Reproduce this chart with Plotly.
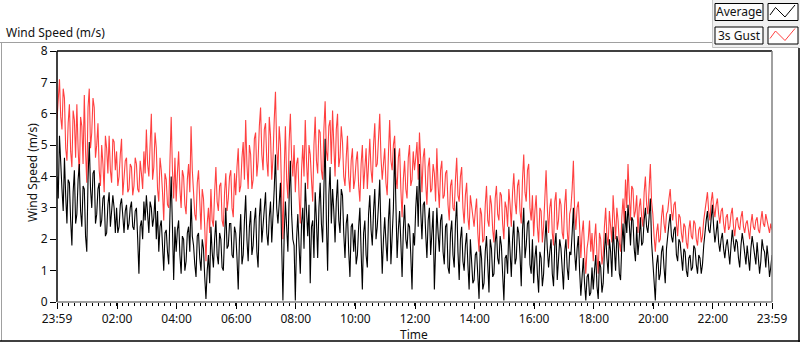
import pandas as pd
import plotly.graph_objects as go

# ---- data (samples every 5 min, plus the in-between samples) ----
start_time = "2000-01-01 23:59"
step_seconds = 150  # combined series: one sample every 2.5 minutes

# 3 s gust, on the 5-minute marks (00:00 .. 23:59)
gust_values = [
    5.8, 7.1, 5.5, 6.5, 4.5, 6.3, 4.3, 5.8, 6.3, 4.0, 5.6, 6.6, 3.8, 6.8, 5.4, 6.2, 5.0, 4.2, 5.0, 3.5, 4.9, 5.3, 3.8, 5.1,
    4.8, 4.0, 5.2, 3.9, 4.6, 3.6, 4.3, 3.7, 4.4, 3.5, 4.1, 4.8, 5.5, 4.0, 6.0, 4.3, 4.9, 3.2, 4.2, 2.6, 3.9, 3.0, 5.9, 3.3,
    3.2, 4.8, 3.0, 4.0, 2.8, 4.4, 5.6, 3.6, 2.6, 4.2, 2.3, 3.3, 1.3, 3.0, 3.6, 2.4, 4.3, 2.9, 3.8, 2.4, 4.1, 3.3, 4.2, 2.7,
    3.4, 4.9, 3.7, 5.1, 5.8, 3.6, 4.7, 3.9, 5.4, 4.5, 6.2, 4.2, 5.7, 4.0, 5.3, 4.6, 6.7, 4.2, 5.0, 2.0, 5.6, 3.3, 6.0, 4.0,
    3.5, 4.6, 2.5, 5.0, 5.8, 3.6, 4.7, 3.2, 5.9, 4.1, 5.4, 3.9, 6.4, 4.5, 5.8, 6.1, 4.0, 6.0, 4.6, 5.1, 3.7, 5.3, 3.5, 4.9,
    3.9, 4.8, 3.2, 5.0, 4.1, 3.6, 5.2, 3.8, 5.7, 4.4, 6.0, 3.9, 4.9, 3.4, 5.8, 4.2, 5.3, 3.6, 4.9, 2.7, 4.5, 3.3, 5.0, 3.9,
    4.2, 5.1, 5.4, 3.5, 4.9, 3.1, 4.6, 3.6, 4.1, 4.9, 3.0, 4.5, 3.4, 4.2, 2.6, 3.9, 2.9, 4.6, 3.2, 4.3, 2.5, 3.8, 2.3, 3.0,
    2.4, 3.3, 1.6, 2.8, 2.0, 3.7, 2.4, 3.1, 1.9, 3.7, 2.6, 3.4, 2.0, 3.0, 3.6, 2.4, 4.1, 2.8, 3.9, 2.5, 4.7, 3.2, 4.4, 2.6,
    2.1, 3.4, 1.9, 2.9, 2.4, 4.2, 2.2, 3.3, 1.8, 3.5, 2.6, 3.1, 2.0, 3.6, 1.7, 3.0, 4.5, 2.3, 3.2, 1.4, 2.6, 0.9, 2.0, 1.6,
    1.3, 2.5, 0.9, 2.0, 1.5, 3.0, 1.8, 2.5, 3.4, 2.0, 2.6, 1.6, 3.3, 3.9, 4.4, 2.6, 3.6, 2.9, 2.2, 3.3, 2.4, 4.0, 2.8, 4.4,
    2.8, 1.6, 2.5, 2.0, 3.1, 2.2, 2.9, 3.6, 2.6, 3.2, 2.1, 2.7, 1.9, 2.4, 1.7, 2.6, 2.0, 2.5, 1.8, 2.4, 2.1, 2.9, 3.5, 2.6,
    3.5, 2.7, 3.3, 2.5, 3.0, 2.2, 2.8, 2.4, 3.0, 2.1, 2.7, 2.3, 2.9, 2.2, 2.6, 2.0, 2.8, 2.3, 2.7, 2.2, 2.9, 2.4, 2.6, 2.2, 2.3,
]
# 3 s gust, in between the 5-minute marks
gust_values_between = [
    6.4, 5.9, 6.8, 4.9, 5.7, 4.8, 6.1, 4.6, 4.9, 5.9, 4.4, 4.8, 6.2, 4.9, 6.5, 4.6, 5.7, 3.7, 4.4, 5.3, 4.1, 4.2, 5.2, 4.2,
    3.7, 4.7, 3.4, 4.5, 3.5, 4.4, 3.4, 4.6, 3.6, 4.5, 3.6, 4.1, 4.4, 5.3, 3.9, 5.4, 3.6, 4.6, 3.5, 4.1, 3.1, 4.5, 4.2, 4.6,
    4.1, 3.6, 4.2, 3.1, 3.9, 3.5, 4.2, 2.8, 3.8, 2.9, 3.6, 2.4, 2.5, 2.2, 2.6, 3.5, 3.2, 3.7, 2.6, 3.5, 2.9, 4.0, 3.0, 4.1,
    4.3, 3.5, 4.6, 3.9, 4.4, 5.0, 3.6, 5.2, 4.0, 5.6, 4.7, 5.5, 4.5, 5.9, 3.9, 5.8, 4.9, 5.6, 3.4, 4.1, 3.9, 5.1, 4.6, 5.0,
    4.4, 3.4, 4.2, 4.0, 4.5, 5.0, 3.9, 5.0, 4.5, 5.5, 4.2, 5.5, 4.8, 5.6, 4.4, 5.0, 5.5, 4.3, 5.6, 4.0, 4.6, 4.0, 4.5, 3.6,
    4.5, 3.7, 4.4, 3.6, 4.9, 4.5, 4.2, 5.0, 4.3, 5.2, 4.6, 4.4, 3.8, 4.7, 4.5, 5.0, 4.0, 4.6, 3.6, 3.9, 3.6, 4.6, 3.7, 4.8,
    4.6, 3.9, 4.5, 4.6, 3.8, 4.3, 3.5, 4.4, 3.2, 3.7, 4.2, 3.3, 4.1, 3.1, 3.7, 3.0, 3.9, 3.4, 4.0, 3.0, 3.4, 2.7, 3.4, 2.6,
    2.9, 2.2, 3.0, 1.9, 3.1, 2.6, 3.4, 2.3, 3.3, 2.8, 3.5, 2.5, 3.2, 2.4, 3.1, 3.5, 3.2, 3.7, 2.9, 3.9, 3.5, 4.2, 3.0, 3.4,
    2.9, 2.4, 3.0, 1.9, 3.3, 3.0, 3.0, 2.2, 3.2, 2.3, 3.3, 2.2, 3.1, 2.3, 2.8, 3.6, 2.9, 3.0, 2.4, 2.2, 1.6, 1.7, 2.6, 2.2,
    2.0, 1.5, 2.2, 1.2, 2.4, 2.1, 2.9, 1.9, 2.6, 3.0, 1.9, 2.7, 2.5, 3.0, 3.4, 3.7, 2.7, 3.4, 3.0, 2.7, 3.5, 3.1, 3.6, 3.2,
    2.1, 2.2, 1.9, 2.7, 2.5, 2.8, 3.3, 2.9, 3.1, 2.5, 2.8, 2.2, 2.5, 1.9, 2.3, 2.1, 2.6, 2.0, 2.3, 1.9, 2.6, 3.2, 2.9, 3.2,
    3.0, 3.1, 2.8, 2.9, 2.5, 2.7, 2.3, 2.8, 2.4, 2.6, 2.4, 2.7, 2.4, 2.5, 2.3, 2.5, 2.4, 2.6, 2.3, 2.6, 2.5, 2.8, 2.3, 2.5,
]

# average wind speed, on the 5-minute marks
average_values = [
    4.0, 5.3, 3.6, 4.6, 2.5, 3.8, 1.8, 4.2, 2.8, 4.4, 2.4, 3.6, 1.6, 5.1, 3.0, 4.2, 2.8, 3.8, 2.6, 3.4, 2.2, 3.5, 2.8, 3.0,
    3.0, 2.4, 3.3, 2.2, 3.1, 2.5, 3.2, 2.3, 3.0, 0.9, 2.6, 3.2, 3.4, 2.2, 3.0, 2.7, 2.0, 1.6, 2.6, 1.0, 2.3, 1.2, 4.0, 0.7,
    1.6, 2.6, 0.9, 2.0, 1.3, 2.4, 3.3, 1.8, 0.8, 2.2, 1.0, 1.7, 0.1, 1.5, 2.4, 1.1, 2.6, 1.2, 2.0, 1.0, 3.0, 1.8, 2.5, 1.4,
    2.2, 0.4, 2.8, 1.5, 3.4, 1.3, 2.9, 1.8, 3.0, 1.1, 3.3, 2.4, 3.5, 1.8, 3.2, 2.6, 4.7, 2.5, 3.8, 0.05, 3.2, 1.6, 4.5, 2.0,
    0.05, 2.8, 0.9, 3.0, 3.8, 2.1, 0.6, 2.6, 3.5, 1.4, 3.8, 1.9, 5.2, 1.0, 4.3, 3.6, 1.9, 3.9, 2.2, 3.4, 1.4, 2.8, 0.8, 2.5,
    2.3, 1.5, 3.0, 0.4, 2.6, 1.1, 3.4, 1.8, 3.6, 2.4, 3.9, 0.9, 2.7, 1.3, 3.3, 2.0, 4.9, 1.4, 2.9, 0.8, 3.1, 1.7, 2.4, 0.4,
    1.8, 3.7, 4.4, 2.0, 3.2, 1.4, 3.0, 2.1, 0.4, 3.0, 1.6, 2.8, 1.2, 2.5, 0.9, 2.6, 1.1, 3.2, 0.7, 2.4, 1.0, 2.2, 0.4, 1.4,
    0.7, 1.6, 0.1, 1.4, 0.6, 2.1, 0.3, 1.7, 0.9, 2.3, 1.2, 1.8, 0.05, 1.5, 2.4, 0.8, 2.6, 1.4, 2.2, 0.5, 3.0, 1.8, 2.6, 0.9,
    0.6, 1.8, 0.3, 1.4, 0.9, 2.6, 1.1, 2.0, 0.5, 2.2, 1.3, 1.7, 0.4, 2.0, 0.7, 1.5, 3.0, 1.0, 2.1, 0.2, 1.4, 0.05, 0.9, 0.3,
    0.4, 1.5, 0.1, 1.1, 0.6, 2.2, 0.9, 1.6, 2.4, 1.0, 1.9, 0.7, 2.5, 2.9, 3.1, 1.8, 2.6, 1.3, 1.5, 2.7, 1.9, 3.0, 2.2, 3.3,
    1.2, 0.05, 1.5, 0.9, 1.8, 0.6, 2.2, 2.8, 1.9, 2.4, 1.3, 1.9, 1.0, 1.6, 0.8, 1.5, 1.1, 1.7, 0.9, 1.4, 1.2, 2.3, 2.9, 2.2,
    3.1, 1.9, 2.6, 1.6, 2.2, 1.4, 2.0, 1.2, 2.3, 1.6, 1.9, 1.1, 2.2, 1.5, 1.8, 1.0, 2.1, 1.4, 1.9, 0.9, 2.0, 1.6, 1.8, 0.8, 1.5,
]
# average wind speed, in between the 5-minute marks
average_values_between = [
    3.3, 4.3, 2.9, 3.4, 3.9, 2.6, 3.5, 2.5, 3.9, 2.9, 3.7, 2.1, 3.9, 3.6, 4.1, 2.5, 3.6, 2.4, 3.3, 2.1, 3.1, 2.4, 3.4, 2.2,
    2.2, 3.1, 2.6, 2.9, 2.3, 3.0, 2.4, 2.9, 2.0, 2.4, 2.0, 2.6, 2.8, 3.2, 2.4, 3.4, 2.9, 2.4, 1.8, 2.2, 1.6, 2.8, 2.4, 2.4,
    2.3, 1.5, 2.1, 1.0, 2.2, 1.6, 2.1, 1.2, 2.1, 1.4, 2.0, 0.8, 1.0, 0.6, 1.6, 2.0, 1.5, 2.2, 1.1, 2.1, 1.7, 2.5, 1.5, 2.4,
    1.4, 2.0, 1.2, 2.6, 2.0, 2.4, 1.5, 2.6, 1.6, 2.7, 1.9, 3.1, 2.2, 2.7, 1.9, 3.6, 3.0, 3.3, 1.8, 2.1, 2.4, 3.3, 2.8, 1.8,
    2.0, 1.8, 2.5, 1.7, 2.9, 3.1, 2.4, 1.4, 2.6, 3.0, 2.5, 3.6, 2.6, 3.4, 2.5, 2.9, 3.2, 2.6, 3.6, 2.2, 2.5, 1.6, 2.4, 1.6,
    1.2, 2.4, 1.6, 2.2, 1.5, 2.8, 2.3, 2.9, 2.0, 3.1, 2.2, 2.0, 1.9, 2.6, 1.2, 3.0, 2.4, 2.3, 1.9, 2.3, 2.0, 2.5, 1.5, 2.2,
    3.0, 2.4, 2.9, 3.1, 2.2, 2.6, 1.5, 2.9, 1.8, 2.2, 2.6, 1.6, 2.4, 1.1, 2.2, 1.5, 2.5, 1.6, 2.0, 1.3, 1.8, 1.2, 2.0, 0.6,
    1.5, 0.7, 1.8, 0.4, 1.6, 1.2, 2.0, 0.8, 1.9, 1.4, 2.1, 0.9, 1.4, 0.9, 1.6, 2.0, 1.2, 2.4, 1.5, 2.3, 1.4, 2.5, 1.2, 2.0,
    1.4, 0.9, 1.6, 0.5, 1.9, 1.7, 1.6, 0.9, 1.8, 0.7, 2.0, 0.9, 1.6, 1.1, 1.6, 2.2, 1.6, 1.7, 1.0, 0.8, 0.6, 0.8, 0.2, 1.1,
    1.0, 0.5, 1.3, 0.3, 1.6, 1.4, 2.0, 0.8, 1.7, 2.1, 0.9, 1.8, 1.6, 2.2, 2.5, 2.7, 1.7, 2.4, 2.0, 1.8, 2.6, 2.4, 2.7, 1.9,
    0.6, 1.2, 0.7, 1.6, 1.1, 1.7, 2.5, 2.1, 2.3, 1.5, 2.0, 1.3, 1.7, 1.0, 1.4, 1.0, 1.8, 1.2, 1.5, 0.9, 1.8, 2.6, 2.3, 2.7,
    2.4, 2.2, 1.9, 2.0, 1.7, 1.8, 1.6, 1.8, 1.9, 2.0, 1.4, 1.8, 1.9, 1.2, 1.4, 1.7, 1.8, 1.2, 1.5, 1.3, 1.7, 1.1, 1.4, 1.1,
]

x_tick_values = ["2000-01-01 23:59", "2000-01-02 02:00", "2000-01-02 04:00", "2000-01-02 06:00",
                 "2000-01-02 08:00", "2000-01-02 10:00", "2000-01-02 12:00", "2000-01-02 14:00",
                 "2000-01-02 16:00", "2000-01-02 18:00", "2000-01-02 20:00", "2000-01-02 22:00",
                 "2000-01-02 23:59"]
x_tick_labels = ["23:59", "02:00", "04:00", "06:00", "08:00", "10:00", "12:00", "14:00",
                 "16:00", "18:00", "20:00", "22:00", "23:59"]
y_ticks = [0, 1, 2, 3, 4, 5, 6, 7, 8]

series_names = ["Average", "3s Gust"]
series_colors = ["#000000", "#ff4040"]


def interleave(on_marks, between):
    out = []
    for i, v in enumerate(on_marks):
        out.append(v)
        if i < len(between):
            out.append(between[i])
    return out


gust_series = interleave(gust_values, gust_values_between)
average_series = interleave(average_values, average_values_between)
times = pd.date_range(start_time, periods=len(gust_series), freq=f"{step_seconds}s")

W, H = 800, 342
L, R, T, B = 57, 772, 51, 302
FONT = "Segoe UI, Noto Sans, Open Sans, sans-serif"
TXT = "#111111"


def px(x):
    return (x - L) / (R - L)


def py(y):
    return (B - y) / (B - T)


fig = go.Figure()
fig.add_trace(go.Scatter(x=times, y=gust_series, mode="lines", name=series_names[1],
                         line=dict(color=series_colors[1], width=1.1), showlegend=False))
fig.add_trace(go.Scatter(x=times, y=average_series, mode="lines", name=series_names[0],
                         line=dict(color=series_colors[0], width=1.1), showlegend=False))

shapes = []
# outer frame
shapes.append(dict(type="line", xref="paper", yref="paper", x0=px(0), x1=px(712), y0=py(42.5), y1=py(42.5),
                   line=dict(color="#a0a0a0", width=1)))
shapes.append(dict(type="line", xref="paper", yref="paper", x0=px(1.5), x1=px(1.5), y0=py(42), y1=py(341),
                   line=dict(color="#a0a0a0", width=1)))
shapes.append(dict(type="line", xref="paper", yref="paper", x0=px(0), x1=px(800), y0=py(341), y1=py(341),
                   line=dict(color="#000000", width=1.5)))
shapes.append(dict(type="line", xref="paper", yref="paper", x0=px(799), x1=px(799), y0=py(48), y1=py(342),
                   line=dict(color="#000000", width=1.5)))
# legend panel
shapes.append(dict(type="rect", xref="paper", yref="paper", x0=px(712), x1=px(800), y0=py(0), y1=py(47.5),
                   fillcolor="#f0f0f0", line=dict(width=0), layer="below"))
shapes.append(dict(type="line", xref="paper", yref="paper", x0=px(712.5), x1=px(799), y0=py(47.5), y1=py(47.5),
                   line=dict(color="#c0c0c0", width=1)))
shapes.append(dict(type="line", xref="paper", yref="paper", x0=px(712.5), x1=px(712.5), y0=py(0), y1=py(47.5),
                   line=dict(color="#c8c8c8", width=1)))
# plot area border
shapes.append(dict(type="line", xref="paper", yref="paper", x0=0, x1=1, y0=1, y1=1,
                   line=dict(color="#000000", width=1.5)))
shapes.append(dict(type="line", xref="paper", yref="paper", x0=0, x1=0, y0=0, y1=1,
                   line=dict(color="#000000", width=1.5)))
shapes.append(dict(type="line", xref="paper", yref="paper", x0=1, x1=1, y0=0, y1=1,
                   line=dict(color="#808080", width=1.5)))
shapes.append(dict(type="line", xref="paper", yref="paper", x0=0, x1=1, y0=0, y1=0,
                   line=dict(color="#808080", width=1.5)))

annotations = [
    dict(text="Wind Speed (m/s)", xref="paper", yref="paper", x=px(4), y=py(32), xanchor="left",
         yanchor="middle", showarrow=False, font=dict(family=FONT, size=12, color=TXT)),
    dict(text="Time", xref="paper", yref="paper", x=px(414), y=py(334), xanchor="center",
         yanchor="middle", showarrow=False, font=dict(family=FONT, size=12, color=TXT)),
    dict(text="Wind Speed (m/s)", xref="paper", yref="paper", x=px(32), y=py(172), xanchor="center",
         yanchor="middle", showarrow=False, textangle=-90, font=dict(family=FONT, size=12, color=TXT)),
]

# legend entries
legend_tops = [3.5, 27]
swatch_pts = [(770, 10.5), (775.5, 3), (785, 12.5), (795, 0.5)]
for name, col, y0 in zip(series_names, series_colors, legend_tops):
    shapes.append(dict(type="rect", xref="paper", yref="paper", x0=px(715), x1=px(763), y0=py(y0), y1=py(y0 + 17),
                       fillcolor="#fcfcfc", line=dict(color="#000000", width=1)))
    shapes.append(dict(type="rect", xref="paper", yref="paper", x0=px(768), x1=px(798), y0=py(y0), y1=py(y0 + 17),
                       fillcolor="#ffffff", line=dict(color="#000000", width=1)))
    path = "M " + " L ".join(f"{px(a):.5f},{py(y0 + 1 + b):.5f}" for a, b in swatch_pts)
    shapes.append(dict(type="path", xref="paper", yref="paper", path=path,
                       line=dict(color=col, width=1)))
    annotations.append(dict(text=name, xref="paper", yref="paper", x=px(739), y=py(y0 + 8.5), xanchor="center",
                            yanchor="middle", showarrow=False,
                            font=dict(family=FONT, size=12, color=TXT)))

fig.update_layout(
    width=W, height=H,
    margin=dict(l=L, r=W - R, t=T, b=H - B, pad=0, autoexpand=False),
    paper_bgcolor="#ffffff", plot_bgcolor="#ffffff",
    font=dict(family=FONT, size=12, color=TXT),
    shapes=shapes, annotations=annotations,
    showlegend=False,
)
fig.update_xaxes(
    range=[times[0], times[-1]], automargin=False,
    tickmode="array", tickvals=pd.to_datetime(x_tick_values), ticktext=x_tick_labels,
    ticks="outside", ticklen=6, tickcolor="#000000", tickwidth=1,
    minor=dict(ticks="outside", ticklen=3, tickcolor="#000000", dtick=12 * 60 * 1000, tick0=times[0]),
    showgrid=False, zeroline=False, showline=False,
    tickfont=dict(family=FONT, size=12, color=TXT),
)
fig.update_yaxes(
    range=[0, 8], tickvals=y_ticks, automargin=False,
    ticks="outside", ticklen=6, tickcolor="#000000", tickwidth=1,
    showgrid=False, zeroline=False, showline=False,
    tickfont=dict(family=FONT, size=12, color=TXT),
)

fig.write_html("out.html", config={"displayModeBar": False},
               post_script="document.body.style.margin='0px';document.body.style.overflow='hidden';")
